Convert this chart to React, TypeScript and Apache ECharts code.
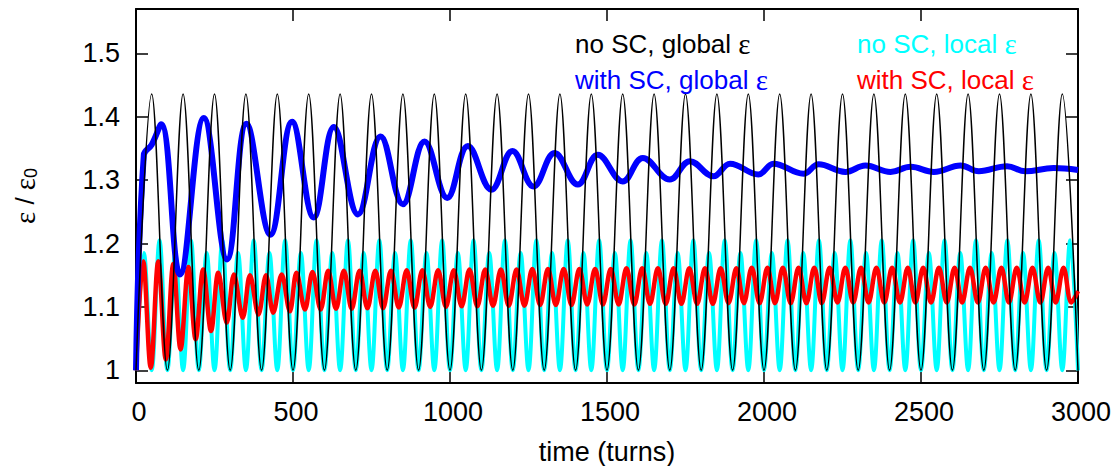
import React, { useEffect, useRef } from "react";
import * as echarts from "echarts";

const FONT = '"Liberation Sans", Arial, Helvetica, sans-serif';
const SERIF = '"Liberation Serif", "DejaVu Serif", serif';

const xTicks = [0, 500, 1000, 1500, 2000, 2500, 3000];
const yTicks = [1, 1.1, 1.2, 1.3, 1.4, 1.5];

const legendGlobal = ["no SC, global ε", "with SC, global ε"];
const legendLocal = ["no SC, local ε", "with SC, local ε"];

// no SC, global ε  (turning points)
const blackTimes = [
  0, 50, 100, 150, 200, 250, 300, 350, 400, 450, 500, 550, 600, 650, 700, 750, 800, 850, 900, 950,
  1000, 1050, 1100, 1150, 1200, 1250, 1300, 1350, 1400, 1450, 1500, 1550, 1600, 1650, 1700, 1750,
  1800, 1850, 1900, 1950, 2000, 2050, 2100, 2150, 2200, 2250, 2300, 2350, 2400, 2450, 2500, 2550,
  2600, 2650, 2700, 2750, 2800, 2850, 2900, 2950, 3000,
];
const blackValues = [
  1, 1.436, 1, 1.436, 1, 1.436, 1, 1.436, 1, 1.436, 1, 1.436, 1, 1.436, 1, 1.436, 1, 1.436, 1, 1.436,
  1, 1.436, 1, 1.436, 1, 1.436, 1, 1.436, 1, 1.436, 1, 1.436, 1, 1.436, 1, 1.436, 1, 1.436, 1, 1.436,
  1, 1.436, 1, 1.436, 1, 1.436, 1, 1.436, 1, 1.436, 1, 1.436, 1, 1.436, 1, 1.436, 1, 1.436, 1, 1.436,
  1,
];

// no SC, local ε  (turning points)
const cyanTimes = [
  0, 25, 50, 75, 100, 125, 150, 175, 200, 225, 250, 275, 300, 325, 350, 375, 400, 425, 450, 475,
  500, 525, 550, 575, 600, 625, 650, 675, 700, 725, 750, 775, 800, 825, 850, 875, 900, 925, 950, 975,
  1000, 1025, 1050, 1075, 1100, 1125, 1150, 1175, 1200, 1225, 1250, 1275, 1300, 1325, 1350, 1375,
  1400, 1425, 1450, 1475, 1500, 1525, 1550, 1575, 1600, 1625, 1650, 1675, 1700, 1725, 1750, 1775,
  1800, 1825, 1850, 1875, 1900, 1925, 1950, 1975, 2000, 2025, 2050, 2075, 2100, 2125, 2150, 2175,
  2200, 2225, 2250, 2275, 2300, 2325, 2350, 2375, 2400, 2425, 2450, 2475, 2500, 2525, 2550, 2575,
  2600, 2625, 2650, 2675, 2700, 2725, 2750, 2775, 2800, 2825, 2850, 2875, 2900, 2925, 2950, 2975,
  3000,
];
const cyanValues = [
  1, 1.185, 1, 1.205, 1, 1.185, 1, 1.205, 1, 1.185, 1, 1.205, 1, 1.185, 1, 1.205, 1, 1.185, 1, 1.205,
  1, 1.185, 1, 1.205, 1, 1.185, 1, 1.205, 1, 1.185, 1, 1.205, 1, 1.185, 1, 1.205, 1, 1.185, 1, 1.205,
  1, 1.185, 1, 1.205, 1, 1.185, 1, 1.205, 1, 1.185, 1, 1.205, 1, 1.185, 1, 1.205, 1, 1.185, 1, 1.205,
  1, 1.185, 1, 1.205, 1, 1.185, 1, 1.205, 1, 1.185, 1, 1.205, 1, 1.185, 1, 1.205, 1, 1.185, 1, 1.205,
  1, 1.185, 1, 1.205, 1, 1.185, 1, 1.205, 1, 1.185, 1, 1.205, 1, 1.185, 1, 1.205, 1, 1.185, 1, 1.205,
  1, 1.185, 1, 1.205, 1, 1.185, 1, 1.205, 1, 1.185, 1, 1.205, 1, 1.185, 1, 1.205, 1, 1.185, 1, 1.205,
  1,
];

// with SC, local ε  (turning points)
const redTimes = [
  0, 23, 47, 71, 95, 119, 142, 167, 190, 214, 239, 262, 289, 312, 340, 363, 390, 414, 437, 464,
  490, 511, 538, 562, 588, 612, 637, 662, 687, 712, 737, 762, 787, 812, 837, 862, 887, 912, 937, 962,
  987, 1012, 1037, 1062, 1087, 1112, 1137, 1162, 1187, 1212, 1237, 1262, 1287, 1312, 1337, 1362,
  1387, 1412, 1437, 1462, 1487, 1512, 1537, 1562, 1587, 1612, 1637, 1662, 1687, 1712, 1737, 1762,
  1787, 1812, 1837, 1862, 1887, 1912, 1936, 1961, 1986, 2011, 2035, 2060, 2085, 2110, 2135, 2160,
  2184, 2209, 2234, 2259, 2284, 2309, 2333, 2358, 2383, 2408, 2433, 2458, 2482, 2507, 2532, 2557,
  2582, 2607, 2631, 2656, 2681, 2706, 2731, 2756, 2780, 2805, 2830, 2855, 2880, 2905, 2929, 2954,
  2979, 3000,
];
const redValues = [
  1, 1.172, 1.004, 1.172, 1.017, 1.168, 1.033, 1.163, 1.049, 1.159, 1.062, 1.154, 1.075, 1.151, 1.083,
  1.15, 1.088, 1.15, 1.091, 1.151, 1.093, 1.154, 1.096, 1.155, 1.096, 1.157, 1.097, 1.157, 1.097,
  1.157, 1.098, 1.157, 1.098, 1.157, 1.099, 1.158, 1.099, 1.158, 1.1, 1.158, 1.1, 1.158, 1.101,
  1.159, 1.101, 1.159, 1.102, 1.159, 1.102, 1.159, 1.102, 1.16, 1.103, 1.16, 1.103, 1.16, 1.103,
  1.16, 1.104, 1.16, 1.104, 1.16, 1.104, 1.161, 1.104, 1.161, 1.105, 1.161, 1.105, 1.161, 1.105,
  1.161, 1.105, 1.161, 1.105, 1.161, 1.106, 1.161, 1.106, 1.162, 1.106, 1.162, 1.106, 1.162, 1.106,
  1.162, 1.106, 1.162, 1.106, 1.162, 1.107, 1.162, 1.107, 1.162, 1.107, 1.162, 1.107, 1.162, 1.107,
  1.162, 1.107, 1.162, 1.107, 1.162, 1.107, 1.162, 1.107, 1.162, 1.107, 1.162, 1.107, 1.162, 1.107,
  1.162, 1.107, 1.162, 1.107, 1.162, 1.107, 1.162, 1.107, 1.125,
];

// with SC, global ε  (turning points)
const blueTimes = [
  0, 25, 50, 80, 140, 216, 290, 352, 428, 497, 566, 630, 707, 779, 850, 919, 991, 1057, 1132, 1199,
  1266, 1333, 1407, 1471, 1550, 1614, 1700, 1764, 1839, 1892, 1982, 2030, 2126, 2174, 2259, 2323,
  2403, 2467, 2541, 2626, 2684, 2774, 2832, 2922, 3000,
];
const blueValues = [
  1, 1.34, 1.356, 1.388, 1.151, 1.398, 1.175, 1.389, 1.214, 1.392, 1.241, 1.384, 1.246, 1.369, 1.262,
  1.361, 1.272, 1.354, 1.285, 1.346, 1.29, 1.343, 1.293, 1.34, 1.298, 1.335, 1.301, 1.33, 1.306,
  1.326, 1.309, 1.326, 1.31, 1.325, 1.313, 1.323, 1.313, 1.321, 1.313, 1.323, 1.314, 1.322, 1.314,
  1.319, 1.316,
];

const pairs = (ts: number[], vs: number[]) => ts.map((t, i) => [t, vs[i]]);

export default function App() {
  const ref = useRef<HTMLDivElement>(null);

  useEffect(() => {
    if (!ref.current) return;
    const chart = echarts.init(ref.current, null, { renderer: "svg" });

    const axisLine = { show: true, onZero: false, lineStyle: { color: "#000", width: 2 } };
    const axisTick = { show: true, inside: true, length: 12, lineStyle: { color: "#000", width: 1.5 } };

    const legendItem = (name: string, color: string) => ({
      name,
      textStyle: {
        color,
        rich: { e: { fontFamily: SERIF, fontSize: 29, color } },
      },
    });

    const legendBase = {
      top: 29,
      orient: "vertical",
      icon: "none",
      itemWidth: 0,
      itemHeight: 0,
      itemGap: 7,
      padding: 0,
      selectedMode: false,
      formatter: (name: string) => name.replace("ε", "{e|ε}"),
      textStyle: { fontSize: 26, fontFamily: FONT },
    };

    const option: any = {
      animation: false,
      backgroundColor: "#fff",
      textStyle: { fontFamily: FONT },
      grid: { left: 136, right: 37, top: 9, bottom: 83, containLabel: false, outerBoundsMode: "none" },
      legend: [
        {
          ...legendBase,
          left: 570,
          data: [legendItem(legendGlobal[0], "#000000"), legendItem(legendGlobal[1], "#0000ff")],
        },
        {
          ...legendBase,
          left: 852,
          data: [legendItem(legendLocal[0], "#00ffff"), legendItem(legendLocal[1], "#ff0000")],
        },
      ],
      xAxis: [
        {
          type: "value",
          min: xTicks[0],
          max: xTicks[xTicks.length - 1],
          interval: 500,
          position: "bottom",
          axisLine,
          axisTick,
          splitLine: { show: false },
          axisLabel: {
            fontSize: 27,
            color: "#000",
            margin: 15,
            fontFamily: FONT,
            padding: [0, 0, 0, 6],
            formatter: (v: number) => String(v),
          },
          name: "time (turns)",
          nameLocation: "middle",
          nameGap: 55,
          nameTextStyle: { fontSize: 27, color: "#000", fontFamily: FONT },
        },
        {
          type: "value",
          min: xTicks[0],
          max: xTicks[xTicks.length - 1],
          interval: 500,
          position: "top",
          axisLine,
          axisTick,
          splitLine: { show: false },
          axisLabel: { show: false },
        },
      ],
      yAxis: [
        {
          type: "value",
          min: 0.98,
          max: 1.57,
          position: "left",
          axisLine,
          axisTick: { ...axisTick, customValues: yTicks },
          splitLine: { show: false },
          axisLabel: {
            customValues: yTicks,
            fontSize: 27,
            color: "#000",
            margin: 16,
            fontFamily: FONT,
            formatter: (v: number) => String(Math.round(v * 10) / 10),
          },
          name: "{e|ε}{a| / }{e|ε}{b|0}",
          nameLocation: "middle",
          nameGap: 96,
          nameTextStyle: {
            color: "#000",
            fontFamily: FONT,
            fontSize: 26,
            rich: {
              e: { fontSize: 29, fontFamily: SERIF, color: "#000" },
              a: { fontSize: 26, fontFamily: FONT, color: "#000" },
              b: { fontSize: 18, fontFamily: FONT, color: "#000", padding: [12, 0, 0, 0] },
            },
          },
        },
        {
          type: "value",
          min: 0.98,
          max: 1.57,
          position: "right",
          axisLine,
          axisTick: { ...axisTick, customValues: yTicks },
          splitLine: { show: false },
          axisLabel: { show: false },
        },
      ],
      series: [
        {
          type: "line",
          name: legendLocal[0],
          data: pairs(cyanTimes, cyanValues),
          symbol: "none",
          smooth: 0.36,
          silent: true,
          lineStyle: { color: "#00ffff", width: 4 },
          itemStyle: { color: "#00ffff" },
        },
        {
          type: "line",
          name: legendLocal[1],
          data: pairs(redTimes, redValues),
          symbol: "none",
          smooth: 0.36,
          silent: true,
          lineStyle: { color: "#ff0000", width: 4.5 },
          itemStyle: { color: "#ff0000" },
        },
        {
          type: "line",
          name: legendGlobal[1],
          data: pairs(blueTimes, blueValues),
          symbol: "none",
          smooth: 0.4,
          silent: true,
          lineStyle: { color: "#0000ff", width: 6 },
          itemStyle: { color: "#0000ff" },
        },
        {
          type: "line",
          name: legendGlobal[0],
          data: pairs(blackTimes, blackValues),
          symbol: "none",
          smooth: 0.36,
          silent: true,
          lineStyle: { color: "#000000", width: 1.5 },
          itemStyle: { color: "#000000" },
        },
      ],
    };

    chart.setOption(option);
    return () => chart.dispose();
  }, []);

  return (
    <div
      ref={ref}
      style={{ position: "fixed", left: 0, top: 0, width: 1115, height: 466, background: "#fff" }}
    />
  );
}
